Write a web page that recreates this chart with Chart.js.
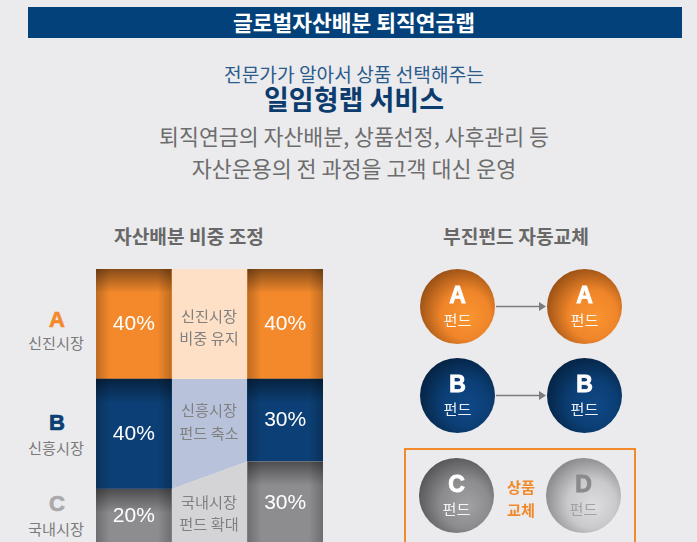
<!DOCTYPE html>
<html><head><meta charset="utf-8">
<script src="https://cdn.jsdelivr.net/npm/chart.js@4.4.1/dist/chart.umd.min.js"></script>
<style>
html,body{margin:0;padding:0;width:697px;height:542px;overflow:hidden;background:#ebebed;font-family:"Noto Sans CJK KR","Noto Sans",sans-serif;}
#page{position:relative;width:697px;height:542px;overflow:hidden;}
.t{position:absolute;transform:translate(-50%,-50%);white-space:nowrap;line-height:1;z-index:5;}
canvas{position:absolute;}
#header{position:absolute;left:28px;top:7px;width:654px;height:31px;background:#03417a;}
#box{position:absolute;left:404px;top:448px;width:228px;height:120px;border:2px solid #f28a2c;}
.head{color:#fff;font-size:18px;font-weight:700;}
.lead{color:#2b5b8c;font-size:17.5px;}
.main{color:#0c3c6e;font-size:24.5px;font-weight:700;}
.desc{color:#6d6d6d;font-size:20px;}
.sec{color:#686868;font-size:17px;font-weight:700;}
.note{color:#808080;font-size:14px;}
.rowL{font-family:"Liberation Sans",Arial,sans-serif;font-weight:700;font-size:22px;-webkit-text-stroke:0.7px currentColor;}
.rowN{color:#7a7a7a;font-size:14px;}
.swap{color:#f28a2c;font-size:14px;font-weight:700;}
#probe{position:absolute;left:-2000px;top:0;font-size:100px;white-space:nowrap;}
</style></head>
<body><div id="page">
<div id="header"></div>
<div class="t head" data-w="242" style="left:354px;top:22px">글로벌자산배분 퇴직연금랩</div>
<div class="t lead" data-w="260" style="left:354px;top:75px">전문가가 알아서 상품 선택해주는</div>
<div class="t main" data-w="180" style="left:354px;top:98px">일임형랩 서비스</div>
<div class="t desc" data-w="390" style="left:354px;top:136px">퇴직연금의 자산배분, 상품선정, 사후관리 등</div>
<div class="t desc" data-w="325" style="left:354px;top:168px">자산운용의 전 과정을 고객 대신 운영</div>
<div class="t sec" data-w="150" style="left:189px;top:237px">자산배분 비중 조정</div>
<div class="t sec" data-w="146" style="left:516px;top:237px">부진펀드 자동교체</div>
<div id="box"></div>
<div id="labels"></div>
<span id="probe">가나다라</span>
<canvas id="alloc" width="227" height="275" style="left:96px;top:269px"></canvas>
<canvas id="funds1" width="254" height="178" style="left:394px;top:262px"></canvas>
<canvas id="funds2" width="254" height="87" style="left:393px;top:452px"></canvas>
</div>
<script>
// ---- data ----
const markets = ['A', 'B', 'C'];
const marketNames = ['신진시장', '신흥시장', '국내시장'];
const weightBefore = [40, 40, 20];
const weightAfter = [40, 30, 30];
const changeNotes = [['신진시장', '비중 유지'], ['신흥시장', '펀드 축소'], ['국내시장', '펀드 확대']];
const stages = ['조정 전', '조정', '조정 후'];
const swapStages = ['교체 전', '교체 후'];
const fundsBefore = ['A', 'B', 'C'];
const fundsAfter = ['A', 'B', 'D'];
const swapText = ['상품', '교체'];
const fundUnit = '펀드';

// ---- styles / layout ----
const barColors = {A: '#f3892b', B: '#0c3f75', C: '#8d8d90'};
const midColors = {A: '#fde0c6', B: '#b8c3db', C: '#d4d4d6'};
const rowLabelColors = {A: '#f28a2c', B: '#0c3f74', C: '#a9a9ab'};
const rowLabelY = [[320, 343], [423, 448], [504, 529]];
const noteY = [[316, 338], [410, 433], [502, 524]];
const swapY = [487, 510];
const ballColors = {
  A: ['#f8952f', '#f0852a', '#8e4a12'],
  B: ['#0f4888', '#0b3e74', '#04203d'],
  C: ['#a2a2a5', '#8c8c8f', '#4f4f52'],
  D: ['#dedee0', '#c9c9cb', '#808083']
};
const ballText = {A: ['#fff', 'rgba(255,255,255,0.92)'], B: ['#fff', 'rgba(255,255,255,0.92)'], C: ['#fff', 'rgba(255,255,255,0.9)'], D: ['#8a8a8c', '#a2a2a4']};
const R = 37.5;

// font metrics: hangul advance ratio
const probe = document.getElementById('probe');
const k = probe.getBoundingClientRect().width / 400 || 1;
probe.remove();
const smallPx = 14 / k;

// ---- html labels ----
const lab = document.getElementById('labels');
function addText(txt, cls, x, y, color) {
  const d = document.createElement('div');
  d.className = 't ' + cls; d.textContent = txt;
  d.style.left = x + 'px'; d.style.top = y + 'px';
  if (color) d.style.color = color;
  if (cls !== 'rowL') d.style.fontSize = smallPx + 'px';
  lab.appendChild(d);
}
markets.forEach((m, i) => {
  addText(m, 'rowL', 57, rowLabelY[i][0], rowLabelColors[m]);
  addText(marketNames[i], 'rowN', 56, rowLabelY[i][1]);
  addText(changeNotes[i][0], 'note', 209, noteY[i][0]);
  addText(changeNotes[i][1], 'note', 209, noteY[i][1]);
});
swapText.forEach((s, i) => addText(s, 'swap', 521, swapY[i]));

// fit headline widths
document.querySelectorAll('.t[data-w]').forEach(el => {
  const w = +el.dataset.w;
  const fs = parseFloat(getComputedStyle(el).fontSize);
  const cw = el.getBoundingClientRect().width;
  if (cw > 0) el.style.fontSize = (fs * w / cw) + 'px';
});

// ---- allocation chart ----
const bottomUp = markets.map((m, i) => i).reverse();
const barSets = bottomUp.map(i => ({
  type: 'bar', label: markets[i],
  data: [weightBefore[i], null, weightAfter[i]],
  backgroundColor: barColors[markets[i]], borderWidth: 0,
  barPercentage: 1, categoryPercentage: 1, grouped: false,
  xAxisID: 'x', yAxisID: 'y'
}));
const mid = stages.indexOf('조정');
let cumB = 0, cumA = 0;
const midSets = bottomUp.map((i, j) => {
  cumB += weightBefore[i]; cumA += weightAfter[i];
  return {
    type: 'line', label: markets[i] + ' 변화',
    data: [{x: mid - 0.5, y: cumB}, {x: mid + 0.5, y: cumA}],
    fill: j === 0 ? 'origin' : '-1',
    backgroundColor: midColors[markets[i]], borderColor: 'rgba(0,0,0,0)', borderWidth: 0,
    pointRadius: 0, tension: 0, xAxisID: 'x2', yAxisID: 'y2'
  };
});

const shadePlugin = {
  id: 'shade',
  afterDatasetsDraw(chart) {
    const ctx = chart.ctx;
    chart.data.datasets.forEach((ds, di) => {
      if (ds.type !== 'bar') return;
      chart.getDatasetMeta(di).data.forEach((el, i) => {
        if (ds.data[i] == null) return;
        const p = el.getProps(['x', 'y', 'base', 'width'], true);
        const l = p.x - p.width / 2, r = p.x + p.width / 2;
        const t = Math.min(p.y, p.base), b = Math.max(p.y, p.base);
        ctx.save();
        ctx.beginPath(); ctx.rect(l, t, r - l, b - t); ctx.clip();
        let g = ctx.createLinearGradient(0, t, 0, t + 24);
        g.addColorStop(0, 'rgba(0,0,0,0.45)'); g.addColorStop(1, 'rgba(0,0,0,0)');
        ctx.fillStyle = g; ctx.fillRect(l, t, r - l, 24);
        g = ctx.createLinearGradient(l, 0, l + 14, 0);
        g.addColorStop(0, 'rgba(0,0,0,0.22)'); g.addColorStop(1, 'rgba(0,0,0,0)');
        ctx.fillStyle = g; ctx.fillRect(l, t, 14, b - t);
        g = ctx.createLinearGradient(r, 0, r - 14, 0);
        g.addColorStop(0, 'rgba(0,0,0,0.22)'); g.addColorStop(1, 'rgba(0,0,0,0)');
        ctx.fillStyle = g; ctx.fillRect(r - 14, t, 14, b - t);
        ctx.restore();
      });
    });
  }
};
const pctPlugin = {
  id: 'pct',
  afterDatasetsDraw(chart) {
    const ctx = chart.ctx;
    ctx.save();
    ctx.fillStyle = '#fff';
    ctx.font = '21px "Liberation Sans", Arial, sans-serif';
    ctx.textAlign = 'center'; ctx.textBaseline = 'middle';
    chart.data.datasets.forEach((ds, di) => {
      if (ds.type !== 'bar') return;
      chart.getDatasetMeta(di).data.forEach((el, i) => {
        const v = ds.data[i];
        if (v == null) return;
        const p = el.getProps(['x', 'y', 'base'], true);
        ctx.fillText(v + '%', p.x, (p.y + p.base) / 2);
      });
    });
    ctx.restore();
  }
};

new Chart(document.getElementById('alloc'), {
  type: 'bar',
  data: {labels: stages, datasets: [...barSets, ...midSets]},
  options: {
    responsive: false, animation: false, events: [],
    layout: {padding: 0, autoPadding: false},
    plugins: {legend: {display: false}, tooltip: {enabled: false}},
    scales: {
      x: {type: 'category', display: false, stacked: true, offset: true},
      x2: {type: 'linear', display: false, offset: false, min: -0.5, max: stages.length - 0.5},
      y: {display: false, stacked: true, min: 0, max: 100},
      y2: {type: 'linear', display: false, min: 0, max: 100}
    }
  },
  plugins: [shadePlugin, pctPlugin]
});

// ---- fund swap charts ----
function ballFill(c) {
  const chart = c.chart;
  const raw = c.raw;
  if (c.type !== 'data' || !raw || !raw.fund) return '#888';
  const col = ballColors[raw.fund];
  if (!c.parsed || !chart.scales || !chart.scales.x || !chart.chartArea) return col[1];
  const x = chart.scales.x.getPixelForValue(c.parsed.x);
  const y = chart.scales.y.getPixelForValue(c.parsed.y);
  if (!isFinite(x) || !isFinite(y)) return col[1];
  const g = chart.ctx.createRadialGradient(x + R * 0.3, y + R * 0.3, 0, x + R * 0.15, y + R * 0.15, R * 1.3);
  g.addColorStop(0, col[0]); g.addColorStop(0.5, col[1]); g.addColorStop(1, col[2]);
  return g;
}
const ballTextPlugin = {
  id: 'ballText',
  afterDatasetsDraw(chart) {
    const ctx = chart.ctx;
    const ds = chart.data.datasets[0];
    ctx.save();
    ctx.textAlign = 'center'; ctx.textBaseline = 'middle';
    chart.getDatasetMeta(0).data.forEach((el, i) => {
      const f = ds.data[i].fund;
      const col = ballText[f];
      ctx.font = 'bold 23px "Liberation Sans", Arial, sans-serif';
      ctx.fillStyle = col[0]; ctx.strokeStyle = col[0]; ctx.lineWidth = 0.9;
      ctx.fillText(f, el.x, el.y - 10);
      ctx.strokeText(f, el.x, el.y - 10);
      ctx.font = smallPx + 'px "Noto Sans CJK KR", sans-serif';
      ctx.fillStyle = col[1];
      ctx.fillText(fundUnit, el.x, el.y + 14);
    });
    ctx.restore();
  }
};
const arrowPlugin = {
  id: 'arrows',
  afterDatasetsDraw(chart) {
    const ctx = chart.ctx;
    const els = chart.getDatasetMeta(0).data;
    ctx.save();
    ctx.strokeStyle = '#7b7b7d'; ctx.fillStyle = '#7b7b7d'; ctx.lineWidth = 1.4;
    for (let i = 0; i + 1 < els.length; i += 2) {
      const a = els[i], b = els[i + 1];
      const x0 = a.x + R + 1, x1 = b.x - R - 1, y = a.y;
      ctx.beginPath(); ctx.moveTo(x0, y); ctx.lineTo(x1 - 5, y); ctx.stroke();
      ctx.beginPath(); ctx.moveTo(x1, y); ctx.lineTo(x1 - 7, y - 4.5); ctx.lineTo(x1 - 7, y + 4.5); ctx.closePath(); ctx.fill();
    }
    ctx.restore();
  }
};
function swapPoints(rows) {
  const pts = [];
  rows.forEach(i => {
    pts.push({x: swapStages[0], y: fundsBefore[i], fund: fundsBefore[i]});
    pts.push({x: swapStages[1], y: fundsBefore[i], fund: fundsAfter[i]});
  });
  return pts;
}
function swapChart(id, rows, withArrows) {
  new Chart(document.getElementById(id), {
    type: 'bubble',
    data: {datasets: [{data: swapPoints(rows), radius: R, backgroundColor: ballFill, borderWidth: 0, clip: false}]},
    options: {
      responsive: false, animation: false, events: [],
      layout: {padding: 0, autoPadding: false},
      plugins: {legend: {display: false}, tooltip: {enabled: false}},
      scales: {
        x: {type: 'category', labels: swapStages, offset: true, display: false},
        y: {type: 'category', labels: rows.map(i => fundsBefore[i]), offset: true, display: false}
      }
    },
    plugins: withArrows ? [arrowPlugin, ballTextPlugin] : [ballTextPlugin]
  });
}
swapChart('funds1', [0, 1], true);
swapChart('funds2', [2], false);
</script>
</body></html>
